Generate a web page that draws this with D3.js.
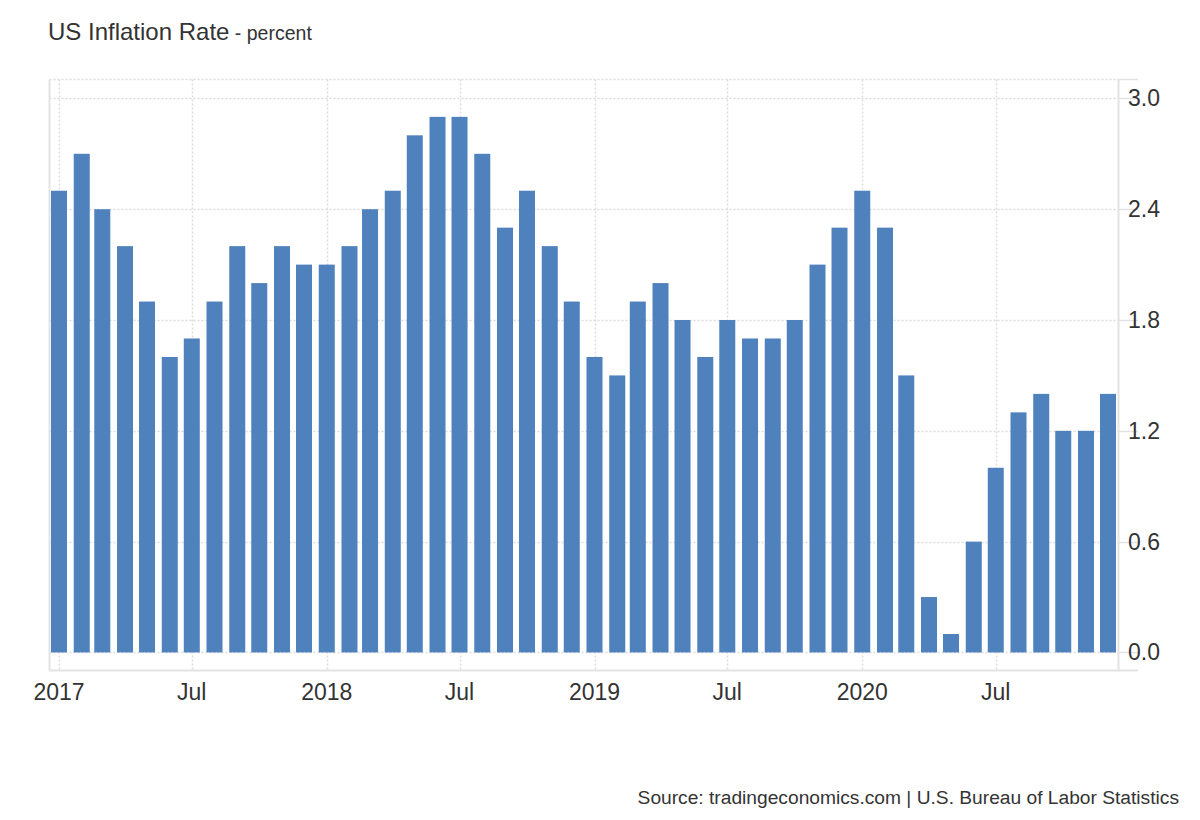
<!DOCTYPE html>
<html>
<head>
<meta charset="utf-8">
<script src="https://cdn.jsdelivr.net/npm/d3@7"></script>
<style>
  html, body { margin: 0; padding: 0; background: #fff; }
  svg { display: block; font-family: "Liberation Sans", Arial, sans-serif; }
</style>
</head>
<body>
<svg id="chart" width="1200" height="820"></svg>
<script>
// ---- data ----
const months = [
  "2017-01","2017-02","2017-03","2017-04","2017-05","2017-06","2017-07","2017-08","2017-09","2017-10","2017-11","2017-12",
  "2018-01","2018-02","2018-03","2018-04","2018-05","2018-06","2018-07","2018-08","2018-09","2018-10","2018-11","2018-12",
  "2019-01","2019-02","2019-03","2019-04","2019-05","2019-06","2019-07","2019-08","2019-09","2019-10","2019-11","2019-12",
  "2020-01","2020-02","2020-03","2020-04","2020-05","2020-06","2020-07","2020-08","2020-09","2020-10","2020-11","2020-12"
];
const inflation = [
  2.5, 2.7, 2.4, 2.2, 1.9, 1.6, 1.7, 1.9, 2.2, 2.0, 2.2, 2.1,
  2.1, 2.2, 2.4, 2.5, 2.8, 2.9, 2.9, 2.7, 2.3, 2.5, 2.2, 1.9,
  1.6, 1.5, 1.9, 2.0, 1.8, 1.6, 1.8, 1.7, 1.7, 1.8, 2.1, 2.3,
  2.5, 2.3, 1.5, 0.3, 0.1, 0.6, 1.0, 1.3, 1.4, 1.2, 1.2, 1.4
];
const xTickDates = ["2017-01","2017-07","2018-01","2018-07","2019-01","2019-07","2020-01","2020-07"];
const xTickLabels = ["2017","Jul","2018","Jul","2019","Jul","2020","Jul"];
const yTicks = [0.0, 0.6, 1.2, 1.8, 2.4, 3.0];
const title = "US Inflation Rate";
const subtitle = " - percent";
const source = "Source: tradingeconomics.com | U.S. Bureau of Labor Statistics";

// ---- layout ----
const parse = d3.timeParse("%Y-%m");
const plot = { left: 49.5, right: 1118.5, top: 79.5, bottom: 670.5 };
const barW = 16;

const x = d3.scaleTime()
  .domain([parse("2017-01"), parse("2020-12")])
  .range([59, 1108]);
const y = d3.scaleLinear()
  .domain([-0.095, 3.105])
  .range([670, 79]);

const svg = d3.select("#chart");
const gridColor = "#dcdcdc";
const axisColor = "#e3e3e3";
const textColor = "#333333";

// horizontal dotted grid lines (incl. top line)
const hLines = yTicks.map(v => Math.round(y(v)) + 0.5).concat([plot.top]);
svg.append("g").selectAll("line").data(hLines).join("line")
  .attr("x1", plot.left).attr("x2", plot.right)
  .attr("y1", d => d).attr("y2", d => d)
  .attr("stroke", gridColor).attr("stroke-width", 1.5)
  .attr("stroke-dasharray", "2,2");

// vertical dotted grid lines
svg.append("g").selectAll("line").data(xTickDates).join("line")
  .attr("x1", d => Math.round(x(parse(d))) + 0.5)
  .attr("x2", d => Math.round(x(parse(d))) + 0.5)
  .attr("y1", plot.top).attr("y2", plot.bottom)
  .attr("stroke", gridColor).attr("stroke-width", 1.5)
  .attr("stroke-dasharray", "2,2");

// bars
svg.append("g").selectAll("rect").data(months).join("rect")
  .attr("x", (d) => x(parse(d)) - barW / 2)
  .attr("width", barW)
  .attr("y", (d, i) => y(inflation[i]))
  .attr("height", (d, i) => y(0) - y(inflation[i]))
  .attr("fill", "#4f81bd");

// frame: left, bottom, right axis line
svg.append("line").attr("x1", plot.left).attr("x2", plot.left)
  .attr("y1", plot.top).attr("y2", plot.bottom)
  .attr("stroke", axisColor).attr("stroke-width", 2);
svg.append("line").attr("x1", plot.left).attr("x2", 1138)
  .attr("y1", plot.bottom).attr("y2", plot.bottom)
  .attr("stroke", axisColor).attr("stroke-width", 2);
svg.append("line").attr("x1", plot.right).attr("x2", plot.right)
  .attr("y1", plot.top).attr("y2", plot.bottom)
  .attr("stroke", axisColor).attr("stroke-width", 2);

// right y axis ticks + labels
svg.append("g").selectAll("line").data(hLines).join("line")
  .attr("x1", plot.right).attr("x2", 1138)
  .attr("y1", d => d).attr("y2", d => d)
  .attr("stroke", axisColor).attr("stroke-width", 1.5);
svg.append("g").selectAll("text").data(yTicks).join("text")
  .attr("x", 1128)
  .attr("y", d => y(d) + 8)
  .attr("font-size", 23)
  .attr("fill", textColor)
  .text(d => d3.format(".1f")(d));

// x tick labels
svg.append("g").selectAll("text").data(xTickDates).join("text")
  .attr("x", d => x(parse(d)))
  .attr("y", 700)
  .attr("text-anchor", "middle")
  .attr("font-size", 23)
  .attr("fill", textColor)
  .text((d, i) => xTickLabels[i]);

// title
const t = svg.append("text").attr("x", 48).attr("y", 40).attr("fill", textColor);
t.append("tspan").attr("font-size", 24).text(title);
t.append("tspan").attr("font-size", 19.5).text(subtitle);

// source
svg.append("text")
  .attr("x", 1179).attr("y", 804)
  .attr("text-anchor", "end")
  .attr("font-size", 19.2)
  .attr("fill", textColor)
  .text(source);
</script>
</body>
</html>
